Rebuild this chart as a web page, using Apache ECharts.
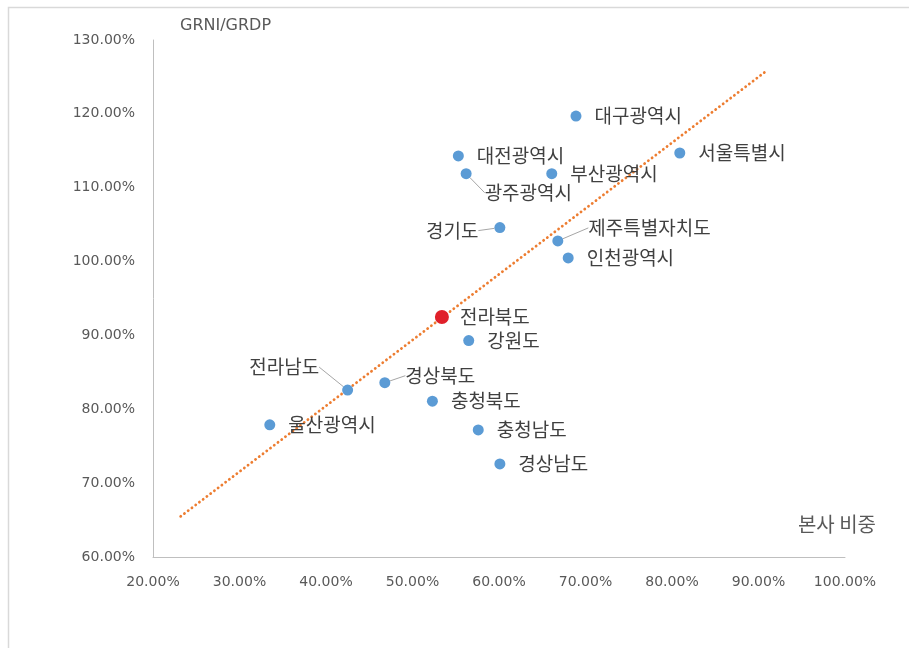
<!DOCTYPE html>
<html>
<head>
<meta charset="utf-8">
<script src="https://cdn.jsdelivr.net/npm/echarts@6/dist/echarts.min.js"></script>
<style>
html,body{margin:0;padding:0;background:#fff;}
#chart{width:909px;height:648px;}
</style>
</head>
<body>
<div id="chart"></div>
<script>
// Data (percent)
const regions = ['대구광역시','서울특별시','대전광역시','광주광역시','부산광역시','경기도','제주특별자치도','인천광역시','강원도','전라남도','경상북도','충청북도','울산광역시','충청남도','경상남도'];
const headShare = [68.9, 80.9, 55.3, 56.2, 66.1, 60.1, 66.8, 68.0, 56.5, 42.5, 46.8, 52.3, 33.5, 57.6, 60.1];
const grniRatio = [119.7, 114.7, 114.3, 111.9, 111.9, 104.6, 102.8, 100.5, 89.3, 82.6, 83.6, 81.1, 77.9, 77.2, 72.6];
const highlightName = ['전라북도'];
const highlightX = [53.4];
const highlightY = [92.5];
const trendX = [23.2, 90.9];
const trendY = [65.5, 125.8];
const xTicks = [20, 30, 40, 50, 60, 70, 80, 90, 100];
const yTicks = [60, 70, 80, 90, 100, 110, 120, 130];

// label placement styling (pixel offsets), by region name
const labelStyle = {
  '광주광역시': {pos: 'right', dx: 0, dy: 19, line: true},
  '경기도': {pos: 'left', dx: 0, dy: 3, line: true, dist: 16},
  '제주특별자치도': {pos: 'right', dx: 12, dy: -13, line: true},
  '전라남도': {pos: 'left', dx: -10, dy: -23, line: true},
  '경상북도': {pos: 'right', dx: 2, dy: -7, line: true}
};

const font = '"Noto Sans CJK KR", "Noto Sans", sans-serif';
const chart = echarts.init(document.getElementById('chart'));

const blueData = regions.map((n, i) => {
  const s = labelStyle[n];
  const item = {name: n, value: [headShare[i], grniRatio[i]]};
  item.label = {position: s ? s.pos : 'right', distance: s && s.dist ? s.dist : 13};
  if (s && s.line) {
    item.labelLine = {show: true, lineStyle: {color: '#a6a6a6', width: 1}};
  }
  return item;
});

const redData = highlightName.map((n, i) => ({name: n, value: [highlightX[i], highlightY[i]]}));
const trendData = trendX.map((x, i) => [x, trendY[i]]);

const axisLabelStyle = {color: '#595959', fontSize: 14, fontFamily: '"DejaVu Sans", sans-serif'};

chart.setOption({
  animation: false,
  backgroundColor: '#fff',
  textStyle: {fontFamily: font},
  grid: {left: 153, right: 64, top: 40, bottom: 91, containLabel: false},
  xAxis: {
    type: 'value', min: 20, max: 100, interval: 10,
    axisLine: {show: true, lineStyle: {color: '#bfbfbf', width: 1}},
    axisTick: {show: false},
    splitLine: {show: false},
    axisLabel: Object.assign({margin: 18, formatter: v => v.toFixed(2) + '%'}, axisLabelStyle)
  },
  yAxis: {
    type: 'value', min: 60, max: 130, interval: 10,
    name: 'GRNI/GRDP', nameLocation: 'end', nameGap: 6,
    nameTextStyle: {color: '#595959', fontSize: 16, align: 'left', padding: [0, 0, 0, 27], fontFamily: '"DejaVu Sans", sans-serif'},
    axisLine: {show: true, lineStyle: {color: '#bfbfbf', width: 1}},
    axisTick: {show: false},
    splitLine: {show: false},
    axisLabel: Object.assign({margin: 18, formatter: v => v.toFixed(2) + '%'}, axisLabelStyle)
  },
  graphic: [
    {type: 'rect', left: 6, top: 5, shape: {width: 1000, height: 800}, silent: true,
      style: {fill: 'none', stroke: '#d9d9d9', lineWidth: 1.5}},
    {type: 'text', right: 33, top: 514,
      style: {text: '본사 비중', fill: '#595959', font: '20px ' + font}}
  ],
  series: [
    {
      type: 'line', data: trendData, symbol: 'none', silent: true,
      lineStyle: {color: '#ED7D31', width: 2.8, type: [0.1, 4.6], cap: 'round'},
      z: 1
    },
    {
      type: 'scatter', data: blueData, symbolSize: 11,
      itemStyle: {color: '#5B9BD5', opacity: 1},
      label: {show: true, formatter: p => p.name, color: '#404040', fontSize: 19, fontFamily: font},
      labelLayout: p => {
        const s = labelStyle[regions[p.dataIndex]];
        return s ? {dx: s.dx, dy: s.dy} : {};
      },
      z: 3
    },
    {
      type: 'scatter', data: redData, symbolSize: 14,
      itemStyle: {color: '#E0202A', opacity: 1},
      label: {show: true, position: 'right', distance: 11, formatter: p => p.name, color: '#404040', fontSize: 19, fontFamily: font},
      z: 4
    }
  ]
});
</script>
</body>
</html>
